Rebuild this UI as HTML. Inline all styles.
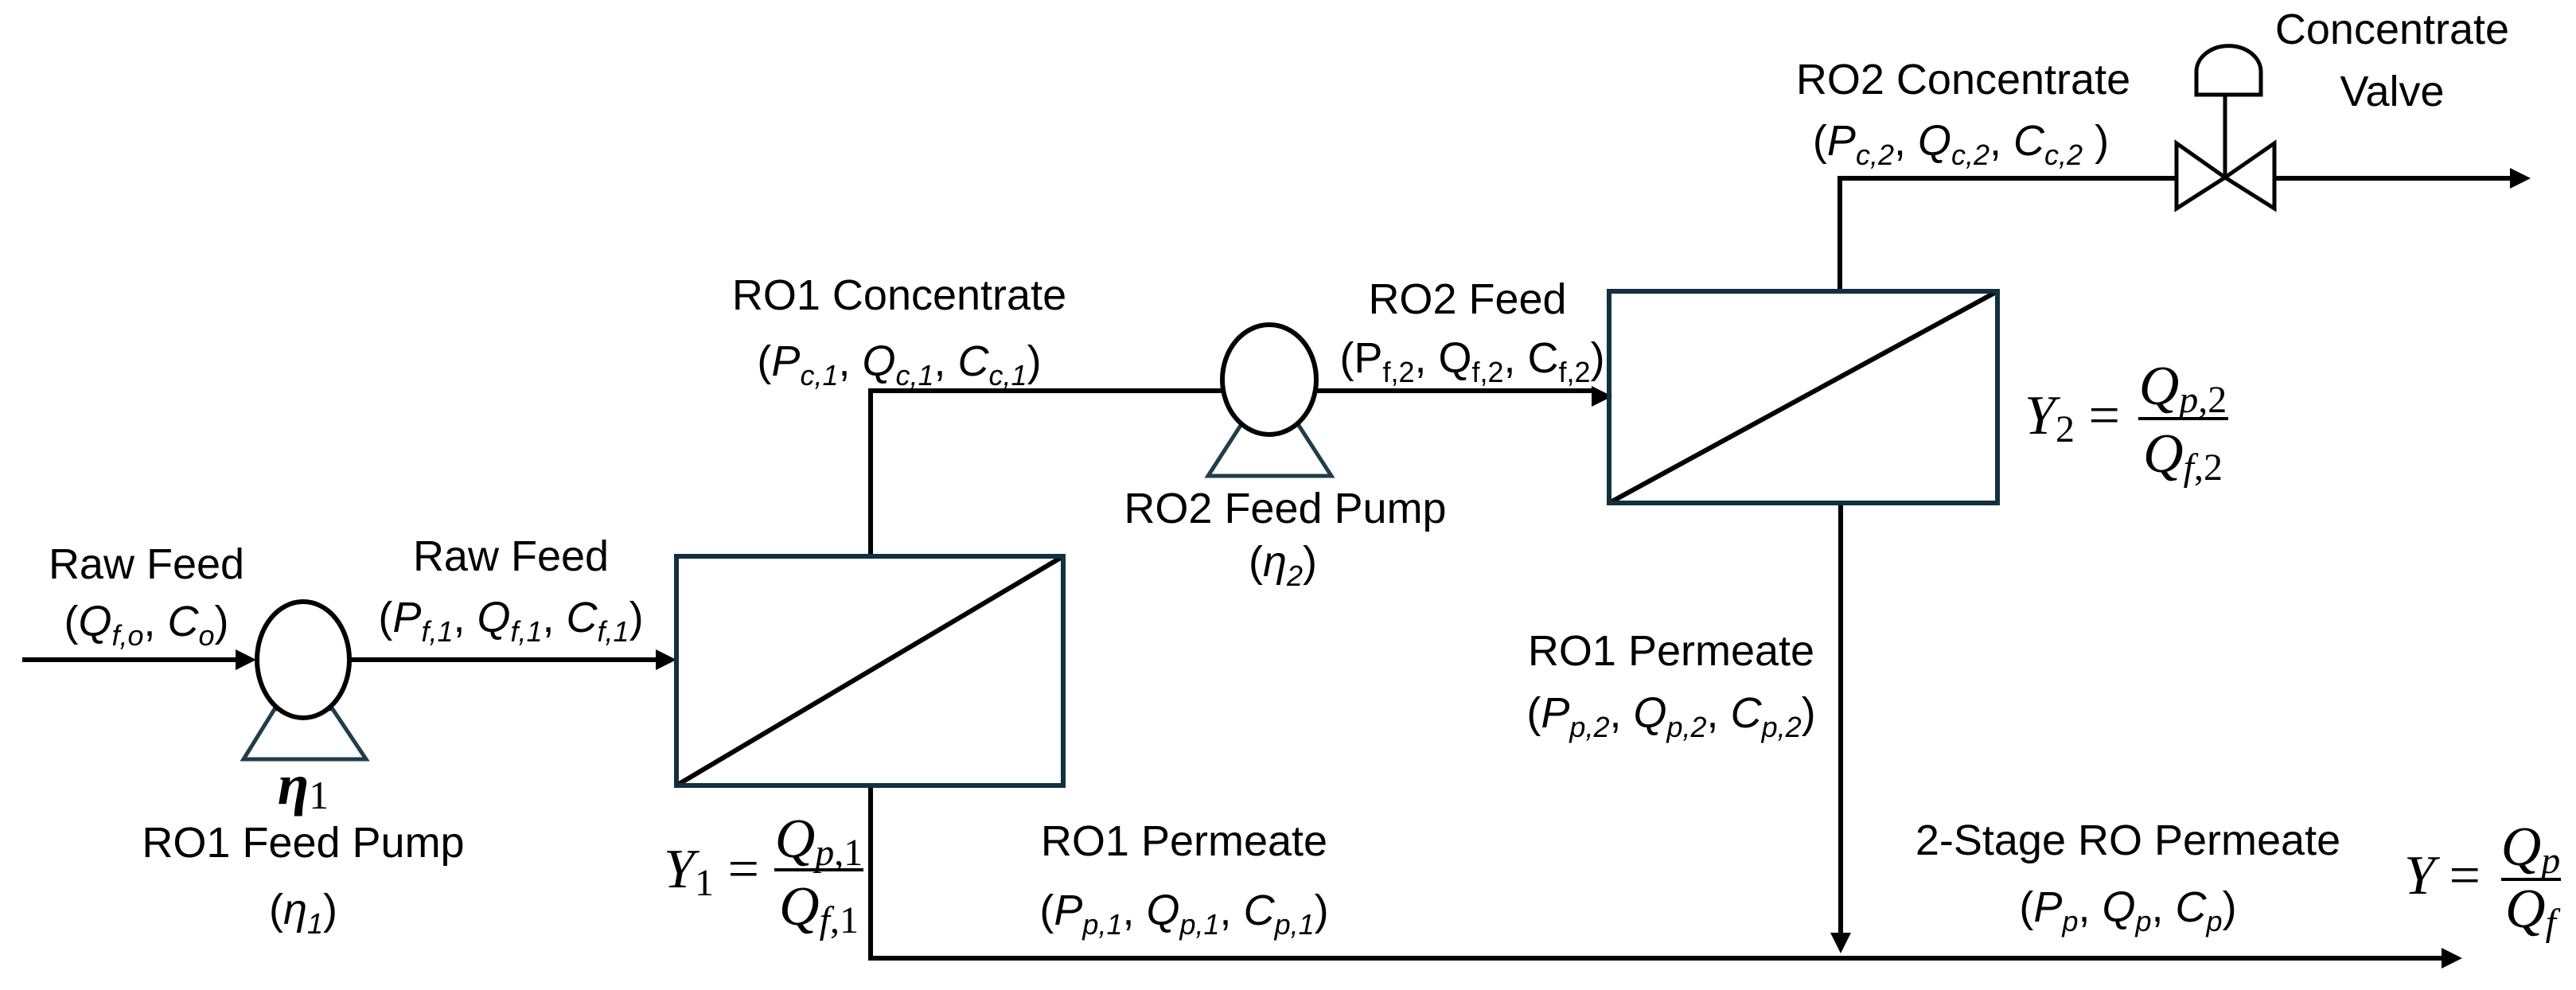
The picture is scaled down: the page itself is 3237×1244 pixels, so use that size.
<!DOCTYPE html>
<html><head><meta charset="utf-8"><style>
html,body{margin:0;padding:0;background:#fff;}
svg{display:block;}
.t{font-family:"Liberation Sans",sans-serif;font-size:54px;fill:#000;}
.m{font-family:"Liberation Serif",serif;font-style:italic;font-size:70px;fill:#000;}
.i{font-style:italic;}
</style></head><body>
<svg width="3237" height="1244" viewBox="0 0 3237 1244" xmlns="http://www.w3.org/2000/svg">
<g stroke="#000" stroke-width="6" fill="none">
<line x1="28" y1="829" x2="300" y2="829"/>
<line x1="440" y1="829" x2="828" y2="829"/>
<polyline points="1094,699 1094,491 1536,491"/>
<line x1="1654" y1="491" x2="2002" y2="491"/>
<polyline points="2312,366 2312,224 2735,224"/>
<line x1="2858" y1="224" x2="3158" y2="224"/>
<line x1="2313" y1="633" x2="2313" y2="1175"/>
<polyline points="1094,987 1094,1204 3070,1204"/>
<line x1="850" y1="987" x2="1336" y2="699"/>
<line x1="2022" y1="632" x2="2510" y2="366"/>
</g>
<g fill="#000">
<polygon points="322,829 296,816 296,842"/>
<polygon points="850,829 824,816 824,842"/>
<polygon points="2026,498 2000,485 2000,511"/>
<polygon points="3180,224 3154,211 3154,237"/>
<polygon points="2313,1198 2300,1172 2326,1172"/>
<polygon points="3094,1204 3068,1191 3068,1217"/>
</g>
<rect x="850" y="699" width="486" height="288" fill="none" stroke="#12303f" stroke-width="6"/>
<rect x="2022" y="366" width="488" height="266" fill="none" stroke="#12303f" stroke-width="6"/>
<polygon points="345,891 418,891 460,954 306,954" fill="none" stroke="#1f3d4a" stroke-width="5"/>
<ellipse cx="381" cy="829" rx="58" ry="73" fill="#fff" stroke="#000" stroke-width="6"/>
<polygon points="1560,533 1631,533 1673,598 1518,598" fill="none" stroke="#1f3d4a" stroke-width="5"/>
<ellipse cx="1595" cy="477" rx="59" ry="69" fill="#fff" stroke="#000" stroke-width="6"/>
<g stroke="#000" stroke-width="5" fill="none">
<polygon points="2735,180 2796,223 2735,262"/>
<polygon points="2858,180 2796,223 2858,262"/>
<line x1="2796" y1="223" x2="2796" y2="119"/>
<path d="M2760,119 L2760,90 A40,32 0 0 1 2841,90 L2841,119 Z"/>
</g>

<text class="t" x="184" y="727" text-anchor="middle">Raw Feed</text>
<text class="t" x="184" y="799" text-anchor="middle">(<tspan class="i">Q</tspan><tspan class="i" font-size="36" dy="12">f,o</tspan><tspan dy="-12">, </tspan><tspan class="i">C</tspan><tspan class="i" font-size="36" dy="12">o</tspan><tspan dy="-12">)</tspan></text>

<text class="t" x="642" y="717" text-anchor="middle">Raw Feed</text>
<text class="t" x="642" y="794" text-anchor="middle">(<tspan class="i">P</tspan><tspan class="i" font-size="36" dy="12">f,1</tspan><tspan dy="-12">, </tspan><tspan class="i">Q</tspan><tspan class="i" font-size="36" dy="12">f,1</tspan><tspan dy="-12">, </tspan><tspan class="i">C</tspan><tspan class="i" font-size="36" dy="12">f,1</tspan><tspan dy="-12">)</tspan></text>

<text x="381" y="1010" text-anchor="middle" style="font-family:'Liberation Serif',serif;font-size:72px;font-weight:bold;font-style:italic">η<tspan font-size="50" font-weight="normal" font-style="normal" dy="6">1</tspan></text>
<text class="t" x="381" y="1077" text-anchor="middle">RO1 Feed Pump</text>
<text class="t" x="381" y="1161" text-anchor="middle">(<tspan class="i">η</tspan><tspan class="i" font-size="36" dy="12">1</tspan><tspan dy="-12">)</tspan></text>

<text class="t" x="1130" y="389" text-anchor="middle">RO1 Concentrate</text>
<text class="t" x="1130" y="472" text-anchor="middle">(<tspan class="i">P</tspan><tspan class="i" font-size="36" dy="12">c,1</tspan><tspan dy="-12">, </tspan><tspan class="i">Q</tspan><tspan class="i" font-size="36" dy="12">c,1</tspan><tspan dy="-12">, </tspan><tspan class="i">C</tspan><tspan class="i" font-size="36" dy="12">c,1</tspan><tspan dy="-12">)</tspan></text>

<text class="t" x="1844" y="394" text-anchor="middle" font-size="62">RO2 Feed</text>
<text class="t" x="1850" y="468" text-anchor="middle">(P<tspan font-size="36" dy="12">f,2</tspan><tspan dy="-12">, Q</tspan><tspan font-size="36" dy="12">f,2</tspan><tspan dy="-12">, C</tspan><tspan font-size="36" dy="12">f,2</tspan><tspan dy="-12">)</tspan></text>

<text class="t" x="1615" y="657" text-anchor="middle">RO2 Feed Pump</text>
<text class="t" x="1612" y="724" text-anchor="middle">(<tspan class="i">η</tspan><tspan class="i" font-size="36" dy="12">2</tspan><tspan dy="-12">)</tspan></text>

<text class="t" x="2467" y="118" text-anchor="middle">RO2 Concentrate</text>
<text class="t" x="2464" y="195" text-anchor="middle">(<tspan class="i">P</tspan><tspan class="i" font-size="36" dy="12">c,2</tspan><tspan dy="-12">, </tspan><tspan class="i">Q</tspan><tspan class="i" font-size="36" dy="12">c,2</tspan><tspan dy="-12">, </tspan><tspan class="i">C</tspan><tspan class="i" font-size="36" dy="12">c,2</tspan><tspan dy="-12"> )</tspan></text>

<text class="t" x="3006" y="55" text-anchor="middle">Concentrate</text>
<text class="t" x="3006" y="133" text-anchor="middle">Valve</text>

<text class="t" x="2100" y="836" text-anchor="middle">RO1 Permeate</text>
<text class="t" x="2100" y="914" text-anchor="middle">(<tspan class="i">P</tspan><tspan class="i" font-size="36" dy="12">p,2</tspan><tspan dy="-12">, </tspan><tspan class="i">Q</tspan><tspan class="i" font-size="36" dy="12">p,2</tspan><tspan dy="-12">, </tspan><tspan class="i">C</tspan><tspan class="i" font-size="36" dy="12">p,2</tspan><tspan dy="-12">)</tspan></text>

<text class="t" x="1488" y="1075" text-anchor="middle">RO1 Permeate</text>
<text class="t" x="1488" y="1162" text-anchor="middle">(<tspan class="i">P</tspan><tspan class="i" font-size="36" dy="12">p,1</tspan><tspan dy="-12">, </tspan><tspan class="i">Q</tspan><tspan class="i" font-size="36" dy="12">p,1</tspan><tspan dy="-12">, </tspan><tspan class="i">C</tspan><tspan class="i" font-size="36" dy="12">p,1</tspan><tspan dy="-12">)</tspan></text>

<text class="t" x="2674" y="1074" text-anchor="middle">2-Stage RO Permeate</text>
<text class="t" x="2674" y="1158" text-anchor="middle">(<tspan class="i">P</tspan><tspan class="i" font-size="36" dy="12">p</tspan><tspan dy="-12">, </tspan><tspan class="i">Q</tspan><tspan class="i" font-size="36" dy="12">p</tspan><tspan dy="-12">, </tspan><tspan class="i">C</tspan><tspan class="i" font-size="36" dy="12">p</tspan><tspan dy="-12">)</tspan></text>

<text class="m" x="834" y="1115">Y<tspan font-style="normal" font-size="48" dy="10">1</tspan><tspan font-style="normal" dy="-10"> = </tspan></text>
<line x1="973" y1="1093" x2="1085" y2="1093" stroke="#000" stroke-width="4"/>
<text class="m" x="1029" y="1077" text-anchor="middle">Q<tspan font-size="48" dy="10">p</tspan><tspan font-size="48" font-style="normal">,1</tspan></text>
<text class="m" x="1029" y="1162" text-anchor="middle">Q<tspan font-size="48" dy="10">f</tspan><tspan font-size="48" font-style="normal">,1</tspan></text>

<text class="m" x="2544" y="545">Y<tspan font-style="normal" font-size="48" dy="10">2</tspan><tspan font-style="normal" dy="-10"> = </tspan></text>
<line x1="2687" y1="526" x2="2800" y2="526" stroke="#000" stroke-width="4"/>
<text class="m" x="2743" y="508" text-anchor="middle">Q<tspan font-size="48" dy="10">p</tspan><tspan font-size="48" font-style="normal">,2</tspan></text>
<text class="m" x="2743" y="593" text-anchor="middle">Q<tspan font-size="48" dy="10">f</tspan><tspan font-size="48" font-style="normal">,2</tspan></text>

<text class="m" x="3021" y="1123">Y<tspan font-style="normal"> = </tspan></text>
<line x1="3143" y1="1105" x2="3218" y2="1105" stroke="#000" stroke-width="4"/>
<text class="m" x="3180" y="1087" text-anchor="middle">Q<tspan font-size="48" dy="10">p</tspan></text>
<text class="m" x="3180" y="1165" text-anchor="middle">Q<tspan font-size="48" dy="10">f</tspan></text>
</svg>
</body></html>
